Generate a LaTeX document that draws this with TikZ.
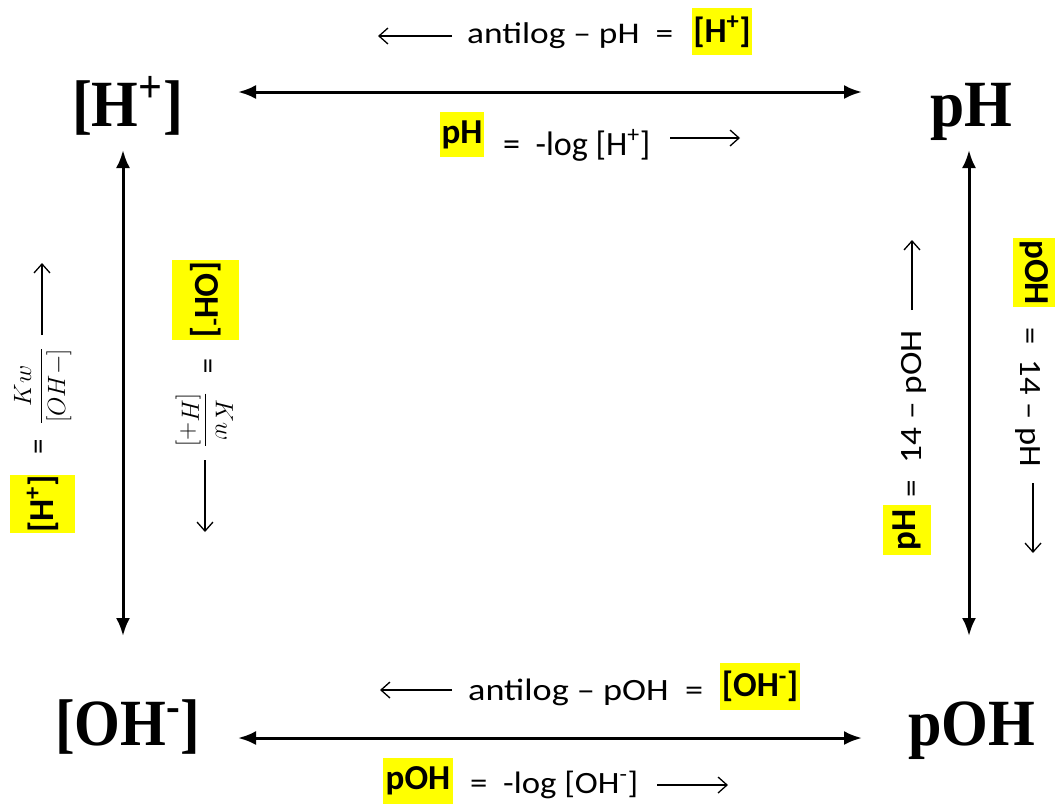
\RequirePackage{fix-cm}
\documentclass[tikz,border=0pt]{standalone}
\usepackage{amsmath}
\usepackage{graphicx}
\usepackage{fontspec}
\setmainfont{Carlito}
\newfontfamily\cornerfont{Liberation Serif}
\usetikzlibrary{arrows.meta}
\definecolor{hl}{RGB}{255,255,0}
\newcommand\hfit[2]{\resizebox{#1}{\height}{#2}}
\tikzset{
  corner/.style={inner sep=0pt, anchor=base, font=\cornerfont\bfseries\fontsize{66}{70}\selectfont},
  lbl/.style={inner sep=0pt, anchor=base west},
  hlbox/.style={fill=hl, inner sep=0pt, font=\bfseries\fontsize{35}{37}\selectfont},
  eqs/.style={inner sep=0pt, font=\fontsize{31}{33}\selectfont},
  frac/.style={inner sep=0pt, anchor=base, font=\fontsize{25}{28}\selectfont},
  big/.style={line width=3pt, {Latex[length=18pt,width=14pt]}-{Latex[length=18pt,width=14pt]}},
  small/.style={line width=1.3pt, -{Straight Barb[length=9pt,width=16pt,line width=1.3pt]}},
}
\begin{document}
\begin{tikzpicture}[x=1pt,y=-1pt]
\useasboundingbox[fill=white] (0,0) rectangle (1062,804);

% corner labels
\node[corner] (H) at (127.5,126) {\hfit{111pt}{[H\textsuperscript{+}]}};
\node[corner] (pH) at (971,126) {\hfit{82pt}{pH}};
\node[corner] (OH) at (127.5,745) {\hfit{145pt}{[OH\textsuperscript{-}]}};
\node[corner] (pOH) at (971.5,745) {\hfit{127pt}{pOH}};

% main arrows
\coordinate (t1) at (238,92);  \coordinate (t2) at (862,92);
\coordinate (b1) at (238,738); \coordinate (b2) at (862,738);
\coordinate (l1) at (123,150); \coordinate (l2) at (123,636);
\coordinate (r1) at (969,150); \coordinate (r2) at (969,636);
\draw[big] (t1) -- (t2);
\draw[big] (b1) -- (b2);
\draw[big] (l1) -- (l2);
\draw[big] (r1) -- (r2);

% top above
\coordinate (ta1) at (452,36); \coordinate (ta2) at (378,36);
\draw[small] (ta1) -- (ta2);
\node[lbl, font=\fontsize{30}{32}\selectfont] (tat) at (467,43) {\hfit{206pt}{antilog -- pH\ \ =}};
\node[hlbox, minimum width=60pt, minimum height=47pt] (tah) at (722,31.5) {[H\textsuperscript{+}]};

% top below
\node[hlbox, minimum width=44pt, minimum height=45pt] (tbh) at (462,134.5) {pH};
\node[lbl, font=\fontsize{34}{36}\selectfont] (tbt) at (503,155) {\hfit{147pt}{=\ \ -log [H\textsuperscript{+}]}};
\coordinate (tb1) at (670,138); \coordinate (tb2) at (740,138);
\draw[small] (tb1) -- (tb2);

% bottom above
\coordinate (ba1) at (452,690); \coordinate (ba2) at (380,690);
\draw[small] (ba1) -- (ba2);
\node[lbl, font=\fontsize{31}{33}\selectfont] (bat) at (468,700) {\hfit{235pt}{antilog -- pOH\ \ =}};
\node[hlbox, minimum width=80pt, minimum height=47pt] (bah) at (760,686.5) {[OH\textsuperscript{-}]};

% bottom below
\node[hlbox, minimum width=70pt, minimum height=46pt] (bbh) at (418,781) {pOH};
\node[lbl, font=\fontsize{31}{33}\selectfont] (bbt) at (470,793) {\hfit{168pt}{=\ \ -log [OH\textsuperscript{-}]}};
\coordinate (bb1) at (657,785); \coordinate (bb2) at (728,785);
\draw[small] (bb1) -- (bb2);

% left outer (reads upward)
\node[hlbox, rotate=90, minimum width=58pt, minimum height=65pt] (loh) at (42.5,504) {[H\textsuperscript{+}]};
\node[eqs, rotate=90] (loe) at (42,447) {=};
\node[frac, rotate=90] (lof) at (48,386) {$\dfrac{Kw}{[OH-]}$};
\coordinate (lo1) at (42,335); \coordinate (lo2) at (42,263);
\draw[small] (lo1) -- (lo2);

% left inner (reads downward)
\node[hlbox, rotate=-90, minimum width=80pt, minimum height=67pt] (lih) at (205.5,300) {[OH\textsuperscript{-}]};
\node[eqs, rotate=-90] (lie) at (205,366) {=};
\node[frac, rotate=-90] (lif) at (199,420) {$\dfrac{Kw}{[H+]}$};
\coordinate (li1) at (205,460); \coordinate (li2) at (205,532);
\draw[small] (li1) -- (li2);

% right inner (reads upward)
\node[hlbox, rotate=90, minimum width=50pt, minimum height=48pt] (rih) at (907,530) {pH};
\node[eqs, rotate=90, anchor=base] (rit) at (921,413.5) {\hfit{167pt}{=\ \ 14 -- pOH}};
\coordinate (ri1) at (912,310); \coordinate (ri2) at (912,240);
\draw[small] (ri1) -- (ri2);

% right outer (reads downward)
\node[hlbox, rotate=-90, minimum width=69pt, minimum height=42pt] (roh) at (1034,272.5) {pOH};
\node[eqs, rotate=-90, anchor=base] (rot) at (1020,397) {\hfit{140pt}{=\ \ 14 -- pH}};
\coordinate (ro1) at (1033,483); \coordinate (ro2) at (1033,553);
\draw[small] (ro1) -- (ro2);
\end{tikzpicture}
\end{document}
